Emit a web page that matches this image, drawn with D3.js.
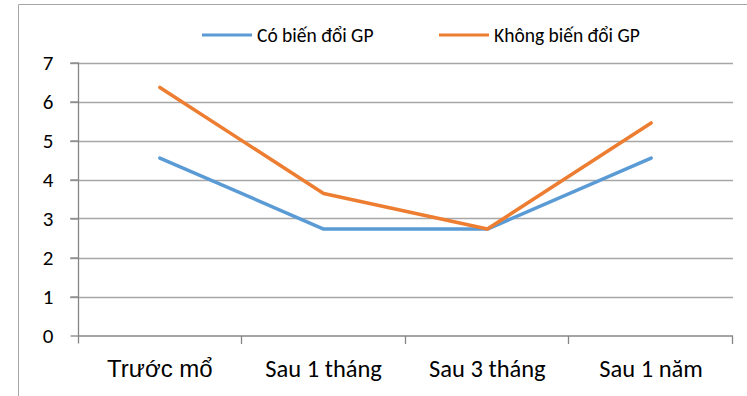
<!DOCTYPE html>
<html>
<head>
<meta charset="utf-8">
<script src="https://cdn.jsdelivr.net/npm/d3@7/dist/d3.min.js"></script>
<style>
  html, body { margin: 0; padding: 0; background: #fff; }
  svg { display: block; }
</style>
</head>
<body>
<svg id="chart" width="747" height="396"></svg>
<script>
// Categories and series values
const categories = ["Trước mổ", "Sau 1 tháng", "Sau 3 tháng", "Sau 1 năm"];
const seriesNames = ["Có biến đổi GP", "Không biến đổi GP"];
const coBienDoi = [4.55, 2.73, 2.73, 4.55];
const khongBienDoi = [6.36, 3.64, 2.73, 5.45];
const yTicks = [0, 1, 2, 3, 4, 5, 6, 7];

const colors = ["#5b9bd5", "#ed7d31"];
const series = [
  { name: seriesNames[0], values: coBienDoi, color: colors[0] },
  { name: seriesNames[1], values: khongBienDoi, color: colors[1] }
];

const svg = d3.select("#chart");
const font = "Carlito, Calibri, 'Open Sans', sans-serif";

// Outer frame (left and top edges)
svg.append("path")
  .attr("d", "M18.5,396 V4.5 H747")
  .attr("fill", "none")
  .attr("stroke", "#a6a6a6")
  .attr("stroke-width", 1);

const plot = { left: 78, right: 733, top: 62.5, bottom: 335.5 };

const x = d3.scaleBand().domain(categories).range([plot.left, plot.right]);
const y = d3.scaleLinear().domain([0, 7]).range([plot.bottom, plot.top]);

// Horizontal gridlines
svg.append("g")
  .selectAll("line")
  .data(yTicks.filter(d => d > 0))
  .join("line")
  .attr("x1", plot.left - 8).attr("x2", plot.right)
  .attr("y1", d => Math.round(y(d)) + 0.5).attr("y2", d => Math.round(y(d)) + 0.5)
  .attr("stroke", "#a6a6a6").attr("stroke-width", 1.3);

// Y axis
const yAxis = svg.append("g")
  .attr("transform", `translate(${plot.left + 0.5},0)`)
  .call(d3.axisLeft(y).tickValues(yTicks).tickFormat(d3.format("d"))
    .tickSize(8).tickPadding(17).tickSizeOuter(0));
yAxis.select(".domain").attr("stroke", "#868686").attr("stroke-width", 1.3)
  .attr("d", `M0,${plot.top}V${plot.bottom + 8}`);
yAxis.selectAll(".tick line").attr("stroke", "#868686").attr("stroke-width", 1.3);
yAxis.selectAll(".tick text")
  .attr("font-family", font).attr("font-size", 21).attr("fill", "#000");

// X axis with tick marks at category boundaries
const xg = svg.append("g").attr("transform", `translate(0,${plot.bottom + 0.5})`);
xg.append("line")
  .attr("x1", plot.left).attr("x2", plot.right)
  .attr("stroke", "#868686").attr("stroke-width", 1.3);
const bounds = categories.map(c => x(c) + x.bandwidth());
xg.selectAll("line.tk")
  .data(bounds)
  .join("line").attr("class", "tk")
  .attr("x1", d => Math.round(d) - 0.5).attr("x2", d => Math.round(d) - 0.5)
  .attr("y1", 0).attr("y2", 8)
  .attr("stroke", "#868686").attr("stroke-width", 1.3);
xg.selectAll("text")
  .data(categories)
  .join("text")
  .attr("x", d => x(d) + x.bandwidth() / 2)
  .attr("y", 41)
  .attr("text-anchor", "middle")
  .attr("font-family", (d, i) => i === 0 ? "'Liberation Sans', Arial, sans-serif" : font)
  .attr("font-size", (d, i) => i === 0 ? 24 : 24.5)
  .attr("fill", "#000")
  .text(d => d);

// Series lines
const line = d3.line()
  .x((d, i) => x(categories[i]) + x.bandwidth() / 2)
  .y(d => y(d));

svg.append("g")
  .selectAll("path")
  .data(series)
  .join("path")
  .attr("d", d => line(d.values))
  .attr("fill", "none")
  .attr("stroke", d => d.color)
  .attr("stroke-width", 3.5)
  .attr("stroke-linejoin", "round")
  .attr("stroke-linecap", "round");

// Legend
const legendX = [202, 439];
const legend = svg.append("g")
  .selectAll("g")
  .data(series)
  .join("g")
  .attr("transform", (d, i) => `translate(${legendX[i]},35)`);
legend.append("line")
  .attr("x1", 0).attr("x2", 50)
  .attr("stroke", d => d.color).attr("stroke-width", 3.2);
legend.append("text")
  .attr("x", 55).attr("y", 6.5)
  .attr("font-family", font).attr("font-size", 19.5)
  .attr("fill", "#000")
  .text(d => d.name);
</script>
</body>
</html>
